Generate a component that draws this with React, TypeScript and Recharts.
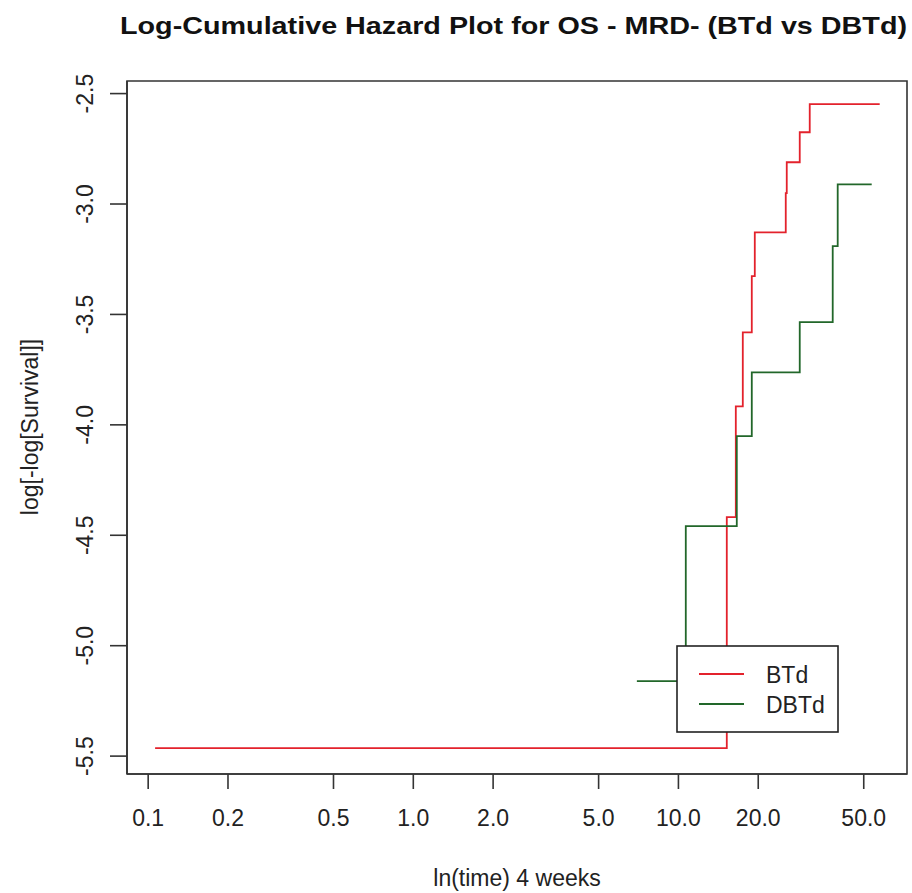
import React from 'react';
import { LineChart, Line, XAxis, YAxis, ReferenceArea } from 'recharts';

const TITLE = 'Log-Cumulative Hazard Plot for OS - MRD- (BTd vs DBTd)';
const X_LABEL = 'ln(time) 4 weeks';
const Y_LABEL = 'log[-log[Survival]]';
const SERIES_NAMES = ['BTd', 'DBTd'];

const X_TICKS = [0.1, 0.2, 0.5, 1.0, 2.0, 5.0, 10.0, 20.0, 50.0];
const Y_TICKS = [-5.5, -5.0, -4.5, -4.0, -3.5, -3.0, -2.5];
const X_DOMAIN = [0.0832, 72.8];
const Y_DOMAIN = [-5.581, -2.443];

// BTd step points (time, log-log survival)
const btdTime = [0.1062, 15.22, 16.46, 17.49, 18.91, 19.41, 25.40, 25.62, 28.68, 31.28, 57.43];
const btdValue = [-5.464, -4.418, -3.916, -3.581, -3.327, -3.128, -2.951, -2.811, -2.675, -2.548, -2.548];

// DBTd step points
const dbtdTime = [6.97, 10.66, 16.60, 18.91, 28.68, 38.19, 39.88, 53.58];
const dbtdValue = [-5.160, -4.459, -4.051, -3.762, -3.535, -3.191, -2.911, -2.911];

const RED = '#e3222c';
const GREEN = '#22672a';
const FONT = 'Arial, "Liberation Sans", sans-serif';

const btdData = btdTime.map((t, i) => ({ t, v: btdValue[i] }));
const dbtdData = dbtdTime.map((t, i) => ({ t, v: dbtdValue[i] }));

const YTick = (props: any) => {
  const { x, y, payload } = props;
  return (
    <text
      x={x}
      y={y}
      transform={`rotate(-90 ${x} ${y})`}
      textAnchor="middle"
      fontSize={23}
      fontFamily={FONT}
      fill="#222"
    >
      {Number(payload.value).toFixed(1)}
    </text>
  );
};

export default function App() {
  return (
    <div style={{ position: 'absolute', left: 0, top: 0, width: 912, height: 893, background: '#fff' }}>
      <LineChart width={912} height={893} margin={{ top: 81, right: 5, bottom: 0, left: 0 }}>
        <XAxis
          dataKey="t"
          type="number"
          scale="log"
          domain={X_DOMAIN}
          allowDataOverflow
          ticks={X_TICKS}
          tickFormatter={(v: number) => v.toFixed(1)}
          height={119}
          tickSize={15}
          tickMargin={21}
          tick={{ fontSize: 23, fontFamily: FONT, fill: '#222' }}
          tickLine={{ stroke: '#333', strokeWidth: 1.6 }}
          axisLine={{ stroke: '#333', strokeWidth: 1.6 }}
          interval={0}
        />
        <YAxis
          dataKey="v"
          type="number"
          domain={Y_DOMAIN}
          allowDataOverflow
          ticks={Y_TICKS}
          width={127}
          tickSize={17}
          tickMargin={17}
          tick={<YTick />}
          tickLine={{ stroke: '#333', strokeWidth: 1.6 }}
          axisLine={{ stroke: '#333', strokeWidth: 1.6 }}
          interval={0}
        />
        <ReferenceArea
          x1={X_DOMAIN[0]}
          x2={X_DOMAIN[1]}
          y1={Y_DOMAIN[0]}
          y2={Y_DOMAIN[1]}
          fill="none"
          fillOpacity={0}
          stroke="#333"
          strokeWidth={1.6}
          ifOverflow="visible"
        />
        <Line
          data={btdData}
          dataKey="v"
          type="stepAfter"
          stroke={RED}
          strokeWidth={1.8}
          dot={false}
          isAnimationActive={false}
          name={SERIES_NAMES[0]}
        />
        <Line
          data={dbtdData}
          dataKey="v"
          type="stepAfter"
          stroke={GREEN}
          strokeWidth={1.8}
          dot={false}
          isAnimationActive={false}
          name={SERIES_NAMES[1]}
        />
      </LineChart>
      <svg
        width={912}
        height={893}
        style={{ position: 'absolute', left: 0, top: 0, pointerEvents: 'none' }}
      >
        <text
          x={513.5}
          y={34}
          textAnchor="middle"
          fontSize={24}
          fontWeight="bold"
          fontFamily={FONT}
          fill="#111"
          textLength={787}
          lengthAdjust="spacingAndGlyphs"
        >
          {TITLE}
        </text>
        <text
          x={517}
          y={878}
          textAnchor="middle"
          dominantBaseline="central"
          fontSize={23}
          fontFamily={FONT}
          fill="#222"
        >
          {X_LABEL}
        </text>
        <text
          x={30}
          y={427}
          transform="rotate(-90 30 427)"
          textAnchor="middle"
          dominantBaseline="central"
          fontSize={23}
          fontFamily={FONT}
          fill="#222"
        >
          {Y_LABEL}
        </text>
        <rect x={677} y={646} width={161} height={86} fill="#fff" stroke="#222" strokeWidth={1.6} />
        <line x1={699} y1={674} x2={744} y2={674} stroke={RED} strokeWidth={1.8} />
        <line x1={699} y1={704} x2={744} y2={704} stroke={GREEN} strokeWidth={1.8} />
        <text x={766} y={675} dominantBaseline="central" fontSize={23} fontFamily={FONT} fill="#222">
          {SERIES_NAMES[0]}
        </text>
        <text x={766} y={705} dominantBaseline="central" fontSize={23} fontFamily={FONT} fill="#222">
          {SERIES_NAMES[1]}
        </text>
      </svg>
    </div>
  );
}
